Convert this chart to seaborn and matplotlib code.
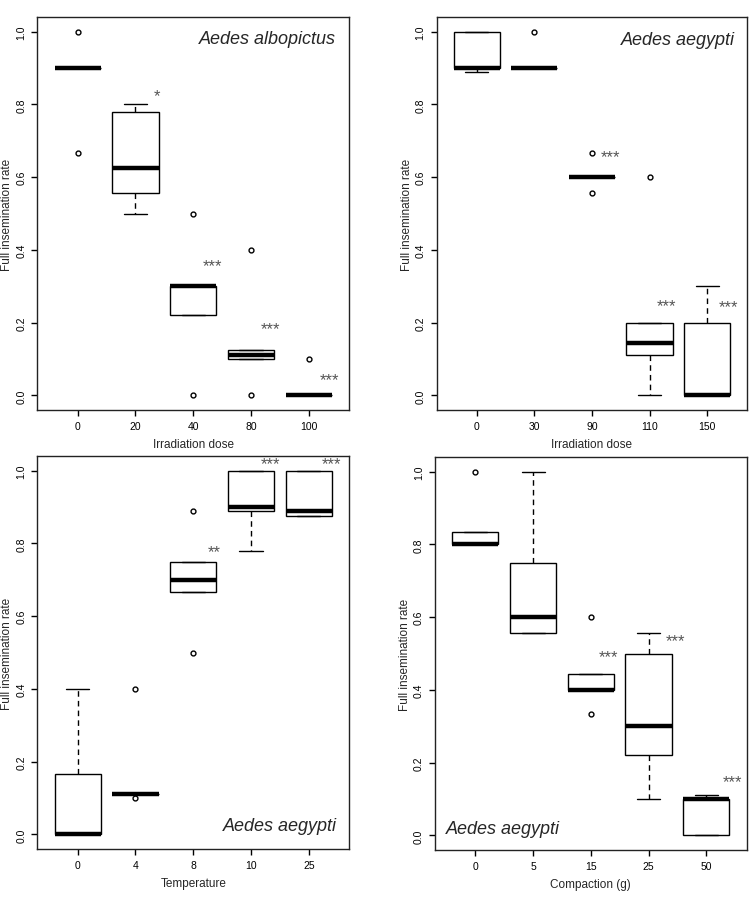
import numpy as np
import pandas as pd
import matplotlib
matplotlib.use("Agg")
import matplotlib.pyplot as plt
import seaborn as sns

sns.set_style("ticks")
plt.rcParams['font.family'] = ['Liberation Sans', 'DejaVu Sans']

# ---- Panel A: Aedes albopictus, irradiation dose ----
a_cats = ["0", "20", "40", "80", "100"]
a_vals = [
    [0.667, 0.9, 0.9, 0.9, 0.9, 0.9, 1.0],
    [0.5, 0.556, 0.625, 0.778, 0.8],
    [0.0, 0.222, 0.3, 0.3, 0.5],
    [0.0, 0.1, 0.111, 0.125, 0.4],
    [0.0, 0.0, 0.0, 0.0, 0.1],
]
a_stars = ["", "*", "***", "***", "***"]
a_star_y = [None, 0.824, 0.358, 0.185, 0.043]

# ---- Panel B: Aedes aegypti, irradiation dose ----
b_cats = ["0", "30", "90", "110", "150"]
b_vals = [
    [0.889, 0.9, 0.9, 1.0, 1.0],
    [0.9, 0.9, 0.9, 0.9, 1.0],
    [0.556, 0.6, 0.6, 0.6, 0.667],
    [0.0, 0.111, 0.143, 0.2, 0.6],
    [0.0, 0.0, 0.0, 0.2, 0.3],
]
b_stars = ["", "", "***", "***", "***"]
b_star_y = [None, None, 0.657, 0.248, 0.243]

# ---- Panel C: Aedes aegypti, temperature ----
c_cats = ["0", "4", "8", "10", "25"]
c_vals = [
    [0.0, 0.0, 0.0, 0.167, 0.4],
    [0.1, 0.111, 0.111, 0.111, 0.4],
    [0.5, 0.667, 0.7, 0.75, 0.889],
    [0.778, 0.889, 0.9, 1.0, 1.0],
    [0.875, 0.875, 0.889, 1.0, 1.0],
]
c_stars = ["", "", "**", "***", "***"]
c_star_y = [None, None, 0.777, 1.02, 1.018]

# ---- Panel D: Aedes aegypti, compaction ----
d_cats = ["0", "5", "15", "25", "50"]
d_vals = [
    [0.8, 0.8, 0.8, 0.833, 1.0],
    [0.556, 0.556, 0.6, 0.75, 1.0],
    [0.333, 0.4, 0.4, 0.444, 0.6],
    [0.1, 0.222, 0.3, 0.5, 0.556],
    [0.0, 0.0, 0.1, 0.1, 0.111],
]
d_stars = ["", "", "***", "***", "***"]
d_star_y = [None, None, 0.491, 0.536, 0.147]

panels = [
    dict(cats=a_cats, vals=a_vals, stars=a_stars, sy=a_star_y, sx=[0, 0.38, 0.34, 0.34, 0.35],
         xlabel="Irradiation dose", species="Aedes albopictus", sp_pos=(0.957, 0.945), sp_ha="right",
         rect=[0.0497, 0.5453, 0.416, 0.4347]),
    dict(cats=b_cats, vals=b_vals, stars=b_stars, sy=b_star_y, sx=[0, 0, 0.32, 0.29, 0.37],
         xlabel="Irradiation dose", species="Aedes aegypti", sp_pos=(0.96, 0.943), sp_ha="right",
         rect=[0.5822, 0.5453, 0.4142, 0.4347]),
    dict(cats=c_cats, vals=c_vals, stars=c_stars, sy=c_star_y, sx=[0, 0, 0.37, 0.34, 0.39],
         xlabel="Temperature", species="Aedes aegypti", sp_pos=(0.96, 0.06), sp_ha="right",
         rect=[0.0497, 0.0597, 0.416, 0.4347]),
    dict(cats=d_cats, vals=d_vals, stars=d_stars, sy=d_star_y, sx=[0, 0, 0.31, 0.47, 0.46],
         xlabel="Compaction (g)", species="Aedes aegypti", sp_pos=(0.035, 0.055), sp_ha="left",
         rect=[0.580, 0.0586, 0.4155, 0.4347]),
]

fig = plt.figure(figsize=(7.5, 9.04), dpi=100)

for p in panels:
    ax = fig.add_axes(p["rect"])
    rows = []
    for c, vs in zip(p["cats"], p["vals"]):
        for v in vs:
            rows.append((c, v))
    df = pd.DataFrame(rows, columns=["group", "rate"])
    sns.boxplot(data=df, x="group", y="rate", order=p["cats"], ax=ax,
                width=0.8, color="white", linecolor="black", linewidth=1.0,
                whis=1.5,
                medianprops=dict(linewidth=3.2, color="black", solid_capstyle="butt"),
                whiskerprops=dict(linestyle=(0, (4, 3)), linewidth=1.0),
                capprops=dict(linewidth=1.0),
                flierprops=dict(marker="o", markersize=3.5, markerfacecolor="white",
                                markeredgecolor="black", markeredgewidth=1.0),
                boxprops=dict(facecolor="white", edgecolor="black", linewidth=1.0))
    ax.set_xlim(-0.7, len(p["cats"]) - 0.3)
    ax.set_ylim(-0.04, 1.04)
    ax.set_yticks([0.0, 0.2, 0.4, 0.6, 0.8, 1.0])
    ax.set_yticklabels(["0.0", "0.2", "0.4", "0.6", "0.8", "1.0"], rotation=90, va="center")
    ax.tick_params(direction="out", length=4, width=1, labelsize=7.5, pad=4, colors="black")
    ax.set_xlabel(p["xlabel"], fontsize=8.5, labelpad=5)
    ax.set_ylabel("Full insemination rate", fontsize=8.5, labelpad=2)
    for s in ax.spines.values():
        s.set_visible(True)
        s.set_linewidth(1.0)
        s.set_color("#222222")
    for i, (st, y) in enumerate(zip(p["stars"], p["sy"])):
        if st:
            ax.text(i + p["sx"][i], y, st, ha="center", va="center", fontsize=12, color="#555555")
    ax.text(p["sp_pos"][0], p["sp_pos"][1], p["species"], transform=ax.transAxes,
            ha=p["sp_ha"], va="center", fontsize=13, style="italic")

fig.savefig("out.png", dpi=100)
